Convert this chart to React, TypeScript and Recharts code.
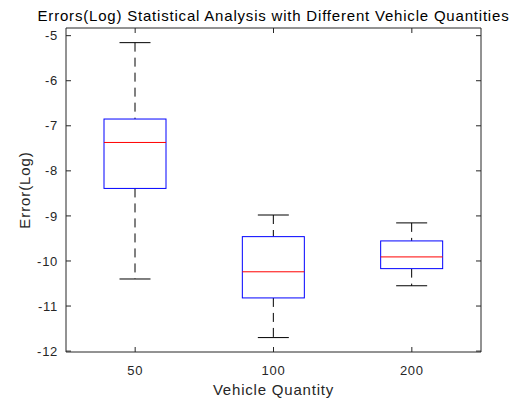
import React from "react";
import { ComposedChart, Bar, XAxis, YAxis } from "recharts";

// vehicle quantity groups
const categories = ["50", "100", "200"];

// box statistics (log error)
const upperWhisker = [-5.155, -8.98, -9.155];
const q3Values = [-6.85, -9.46, -9.555];
const medians = [-7.37, -10.24, -9.91];
const q1Values = [-8.39, -10.82, -10.17];
const lowerWhisker = [-10.4, -11.7, -10.55];

const yTicks = [-12, -11, -10, -9, -8, -7, -6, -5];
const yDomain = [-12.02, -4.83];

const AXIS = "#262626";

const data = categories.map((name, i) => ({
  name,
  range: [lowerWhisker[i], upperWhisker[i]],
  lo: lowerWhisker[i],
  hi: upperWhisker[i],
  q1: q1Values[i],
  q3: q3Values[i],
  median: medians[i],
}));

const BoxShape = (props: any) => {
  const { x, y, width, height, payload } = props;
  const top = Math.min(y, y + height);
  const bottom = Math.max(y, y + height);
  const span = bottom - top;
  const toPx = (v: number) => top + ((payload.hi - v) / (payload.hi - payload.lo)) * span;
  const cx = x + width / 2;
  const capHalf = width / 4;
  const yQ3 = toPx(payload.q3);
  const yQ1 = toPx(payload.q1);
  const yMed = toPx(payload.median);
  return (
    <g>
      <line x1={cx} x2={cx} y1={top} y2={yQ3} stroke="#000" strokeDasharray="9 6" />
      <line x1={cx} x2={cx} y1={yQ1} y2={bottom} stroke="#000" strokeDasharray="9 6" />
      <line x1={cx - capHalf} x2={cx + capHalf} y1={top} y2={top} stroke="#000" />
      <line x1={cx - capHalf} x2={cx + capHalf} y1={bottom} y2={bottom} stroke="#000" />
      <rect x={x} y={yQ3} width={width} height={yQ1 - yQ3} fill="#fff" stroke="#0000ff" />
      <line x1={x} x2={x + width} y1={yMed} y2={yMed} stroke="#ff0000" />
    </g>
  );
};

const tickStyle = { fill: AXIS, fontSize: 13, letterSpacing: 0.7 };

export default function App() {
  return (
    <div
      style={{
        position: "absolute",
        left: 0,
        top: 0,
        width: 515,
        height: 403,
        background: "#fff",
        fontFamily: "'Liberation Sans', Arial, sans-serif",
      }}
    >
      <ComposedChart
        width={515}
        height={403}
        data={data}
        margin={{ top: 0, right: 0, left: 0, bottom: 0 }}
      >
        <XAxis
          dataKey="name"
          stroke={AXIS}
          height={51}
          tickSize={-5}
          tickMargin={19}
          tick={tickStyle}
          label={{
            value: "Vehicle Quantity",
            position: "insideBottom",
            offset: 8,
            fill: AXIS,
            fontSize: 15,
            style: { letterSpacing: "0.8px" },
          }}
        />
        <XAxis
          xAxisId="top"
          dataKey="name"
          orientation="top"
          stroke={AXIS}
          height={28}
          tickSize={-5}
          tickFormatter={() => ""}
          label={{
            value: "Errors(Log) Statistical Analysis with Different Vehicle Quantities",
            position: "insideTop",
            offset: 10,
            fill: "#000",
            fontSize: 15,
            style: { letterSpacing: "0.8px" },
          }}
        />
        <YAxis
          type="number"
          domain={yDomain}
          ticks={yTicks}
          allowDataOverflow
          stroke={AXIS}
          width={66}
          tickSize={-5}
          tickMargin={13}
          tick={tickStyle}
          label={{
            value: "Error(Log)",
            angle: -90,
            position: "insideLeft",
            offset: 25,
            fill: AXIS,
            fontSize: 15,
            style: { textAnchor: "middle", letterSpacing: "0.9px" },
          }}
        />
        <YAxis
          yAxisId="right"
          orientation="right"
          type="number"
          domain={yDomain}
          ticks={yTicks}
          allowDataOverflow
          stroke={AXIS}
          width={34}
          tickSize={-5}
          tickFormatter={() => ""}
        />
        <Bar
          dataKey="range"
          barSize={62}
          shape={BoxShape}
          isAnimationActive={false}
        />
      </ComposedChart>
    </div>
  );
}
